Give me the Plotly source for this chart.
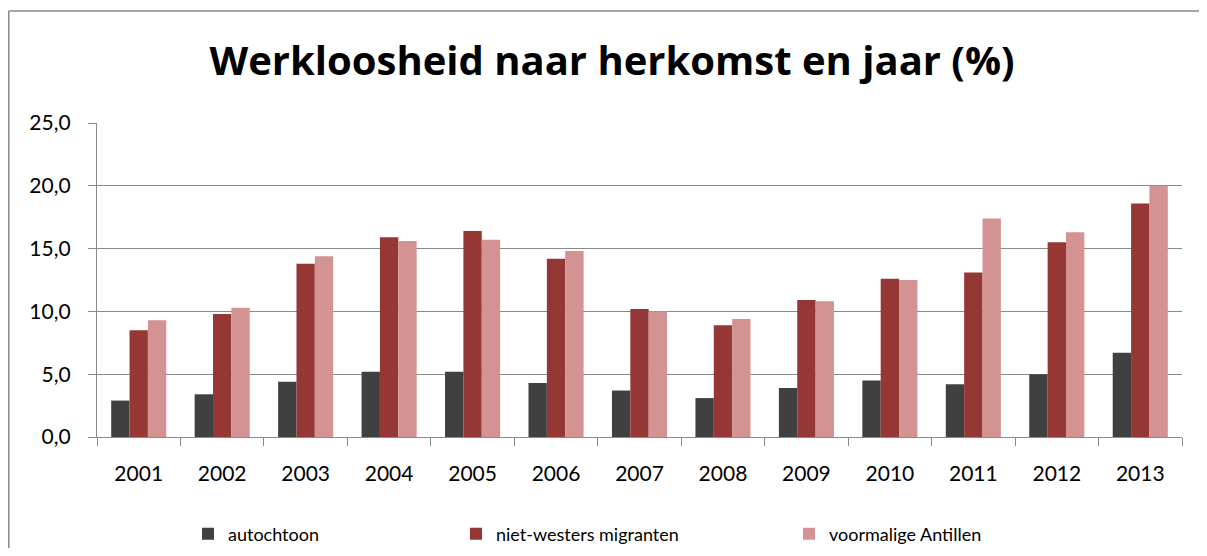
import plotly.graph_objects as go

years = ["2001", "2002", "2003", "2004", "2005", "2006", "2007",
         "2008", "2009", "2010", "2011", "2012", "2013"]
autochtoon = [2.9, 3.4, 4.4, 5.2, 5.2, 4.3, 3.7, 3.1, 3.9, 4.5, 4.2, 5.0, 6.7]
niet_westers = [8.5, 9.8, 13.8, 15.9, 16.4, 14.2, 10.2, 8.9, 10.9, 12.6, 13.1, 15.5, 18.6]
antillen = [9.3, 10.3, 14.4, 15.6, 15.7, 14.8, 10.0, 9.4, 10.8, 12.5, 17.4, 16.3, 20.0]

series_names = ["autochtoon", "niet-westers migranten", "voormalige Antillen"]
colors = ["#404040", "#953735", "#D39392"]

# figure sits inside the page's 8px body margin
W, H = 1191, 540
L, R, T, B = 89, 17, 115, 111
pw, ph = W - L - R, H - T - B

FONT = "Lato, Open Sans, sans-serif"
TITLE_FONT = "Open Sans, Lato, sans-serif"

fig = go.Figure()
for i, (name, vals) in enumerate(zip(series_names, [autochtoon, niet_westers, antillen])):
    fig.add_trace(go.Bar(
        x=years, y=vals, name=name, showlegend=True,
        marker=dict(color=colors[i], line=dict(width=0)),
        legend="legend" if i == 0 else f"legend{i+1}",
    ))

legend_x = [180, 448, 781]
legend_common = dict(
    orientation="h", xref="container", yref="container",
    xanchor="left", yanchor="middle", y=1 - 526 / H,
    font=dict(family=FONT, size=18, color="#000000"),
    bgcolor="rgba(0,0,0,0)", itemclick=False, itemdoubleclick=False,
)

def px_to_paper_x(px):
    return (px - L) / pw

def py_to_paper_y(py):
    return (H - B - py) / ph

border = dict(color="#878787", width=1.5)

fig.update_layout(
    width=W, height=H,
    margin=dict(l=L, r=R, t=T, b=B, autoexpand=False),
    paper_bgcolor="white", plot_bgcolor="white",
    separators=",.",
    showlegend=True,
    barmode="group", bargap=0.34, bargroupgap=0,
    title=dict(
        text="<b>Werkloosheid naar herkomst en jaar (%)</b>",
        x=604 / W, xanchor="center", xref="container",
        y=1 - 53 / H, yanchor="middle", yref="container",
        font=dict(family=TITLE_FONT, size=40, color="#000000"),
    ),
    legend=dict(x=legend_x[0] / W, **legend_common),
    legend2=dict(x=legend_x[1] / W, **legend_common),
    legend3=dict(x=legend_x[2] / W, **legend_common),
    xaxis=dict(
        type="category", tickson="boundaries",
        ticks="outside", ticklen=8, tickwidth=1.3, tickcolor="#8a8a8a",
        showline=True, linecolor="#8a8a8a", linewidth=1.3,
        showgrid=False,
        tickfont=dict(family=FONT, size=21, color="#000000"),
        ticklabelstandoff=18,
    ),
    yaxis=dict(
        range=[0, 25], dtick=5, tick0=0, tickformat=".1f",
        ticks="outside", ticklen=8, tickwidth=1.3, tickcolor="#8a8a8a",
        showline=True, linecolor="#8a8a8a", linewidth=1.3,
        showgrid=True, gridcolor="#8a8a8a", gridwidth=1.3,
        zeroline=False,
        tickfont=dict(family=FONT, size=21, color="#000000"),
        ticklabelstandoff=13,
    ),
    shapes=[
        dict(type="line", xref="paper", yref="paper",
             x0=px_to_paper_x(0.8), x1=px_to_paper_x(W),
             y0=py_to_paper_y(3), y1=py_to_paper_y(3),
             line=border, layer="below"),
        dict(type="line", xref="paper", yref="paper",
             x0=px_to_paper_x(0.8), x1=px_to_paper_x(0.8),
             y0=py_to_paper_y(3), y1=py_to_paper_y(H),
             line=border, layer="below"),
    ],
)

fig.write_html("out.html")
